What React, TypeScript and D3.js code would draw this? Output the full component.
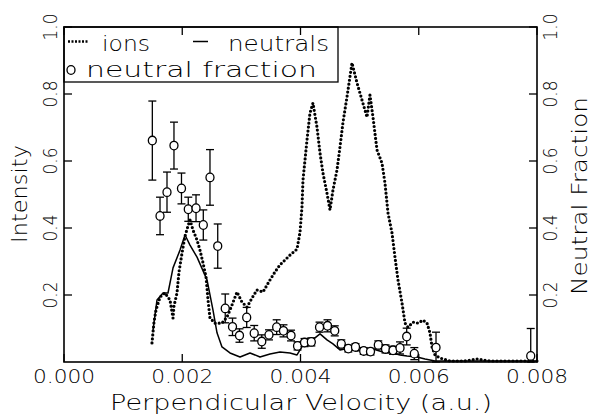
import React from "react";
import * as d3 from "d3";

// ---- data ----
// ions: [perpendicular velocity (a.u.), intensity]
const ionsV = [0.001488,0.001522,0.001556,0.001624,0.001708,0.001793,0.001844,0.00186,0.001911,0.001945,0.001996,0.002047,0.002097,0.002131,0.002182,0.00225,0.0023,0.002351,0.002402,0.002436,0.002469,0.002554,0.002672,0.002757,0.002841,0.002926,0.00301,0.003095,0.00318,0.003264,0.003366,0.003484,0.003569,0.003653,0.003822,0.003941,0.003992,0.004025,0.004042,0.004076,0.00411,0.00416,0.004211,0.004279,0.00433,0.00438,0.004448,0.004499,0.004549,0.004617,0.004668,0.004719,0.004786,0.004871,0.004956,0.00504,0.005125,0.005175,0.005226,0.005294,0.005378,0.005429,0.00548,0.005548,0.005598,0.005649,0.005717,0.005768,0.005818,0.005903,0.005987,0.006072,0.00614,0.00619,0.006224,0.006275,0.006359,0.006528,0.006782,0.006985,0.007205,0.007543,0.008];
const ionsI = [0.057,0.119,0.155,0.194,0.206,0.185,0.131,0.167,0.206,0.269,0.325,0.376,0.406,0.424,0.394,0.364,0.334,0.296,0.254,0.185,0.131,0.116,0.116,0.134,0.17,0.209,0.179,0.164,0.191,0.215,0.209,0.245,0.269,0.29,0.319,0.337,0.388,0.463,0.543,0.603,0.663,0.743,0.773,0.701,0.624,0.564,0.504,0.454,0.513,0.573,0.642,0.716,0.791,0.893,0.833,0.782,0.731,0.797,0.731,0.633,0.594,0.534,0.445,0.385,0.313,0.245,0.176,0.116,0.104,0.119,0.116,0.125,0.116,0.087,0.045,0.021,0.012,0.003,0.003,0.009,0.003,0.003,0.003];

// neutrals: [velocity, intensity]
const neutV = [0.001506,0.001539,0.001573,0.001675,0.001759,0.001844,0.001962,0.002047,0.002131,0.00225,0.002419,0.00252,0.002588,0.002672,0.002807,0.002977,0.003146,0.003315,0.003484,0.003653,0.003822,0.003941,0.003992,0.004042,0.00416,0.00433,0.004448,0.004549,0.004668,0.004837,0.004956,0.005057,0.005226,0.005395,0.005564,0.005683,0.005801,0.00597,0.006106,0.006275,0.008];
const neutI = [0.096,0.14,0.185,0.206,0.206,0.281,0.334,0.379,0.349,0.313,0.245,0.155,0.087,0.045,0.027,0.015,0.027,0.015,0.024,0.03,0.027,0.021,0.036,0.051,0.06,0.084,0.066,0.054,0.036,0.042,0.033,0.036,0.039,0.03,0.027,0.021,0.018,0.015,0.009,0.003,0.003];

// neutral fraction with error bars
const fracV = [0.001494,0.001624,0.001742,0.00186,0.001987,0.002102,0.002233,0.002356,0.002469,0.0026,0.002727,0.00285,0.002968,0.00309,0.003217,0.003345,0.003467,0.003597,0.003712,0.00384,0.00395,0.004068,0.004183,0.004322,0.004457,0.004579,0.00469,0.004809,0.00493,0.005069,0.005184,0.005316,0.005438,0.005565,0.005683,0.005796,0.005925,0.006292,0.007894];
const fracF = [0.661,0.436,0.507,0.646,0.518,0.456,0.459,0.409,0.551,0.346,0.16,0.105,0.079,0.133,0.086,0.061,0.081,0.104,0.093,0.079,0.048,0.058,0.06,0.104,0.108,0.093,0.054,0.04,0.045,0.033,0.031,0.051,0.039,0.035,0.042,0.076,0.025,0.043,0.018];
const fracErr = [0.118,0.056,0.06,0.07,0.046,0.036,0.04,0.045,0.083,0.066,0.043,0.026,0.02,0.03,0.023,0.02,0.015,0.022,0.018,0.016,0.012,0.012,0.012,0.015,0.018,0.015,0.012,0.01,0.01,0.01,0.01,0.012,0.012,0.012,0.018,0.025,0.018,0.046,0.082];

const xTicks = [0, 0.002, 0.004, 0.006, 0.008];
const yTicks = [0.2, 0.4, 0.6, 0.8, 1.0];

const W = 593, H = 418;
const M = { left: 64, right: 537, top: 27, bottom: 362 };
const FONT = "'DejaVu Sans', sans-serif";

export default function App() {
  const x = d3.scaleLinear().domain([0, 0.008]).range([M.left, M.right]);
  const y = d3.scaleLinear().domain([0, 1]).range([M.bottom, M.top]);
  const line = d3.line<[number, number]>().x(d => x(d[0])).y(d => y(d[1]));
  const ions: [number, number][] = ionsV.map((v, i) => [v, ionsI[i]]);
  const neut: [number, number][] = neutV.map((v, i) => [v, neutI[i]]);
  const tl = 8;
  const ax = d3.format(".3f");
  const ay = d3.format(".1f");

  return (
    <svg width={W} height={H} style={{ position: "absolute", left: 0, top: 0, background: "#fff" }}
      fontFamily={FONT} fontWeight={300}>
      {/* neutrals */}
      <path d={line(neut) || ""} fill="none" stroke="#000" strokeWidth={1.5} strokeLinejoin="round" />
      {/* ions dotted */}
      <path d={line(ions) || ""} fill="none" stroke="#000" strokeWidth={3.2} strokeLinecap="round"
        strokeDasharray="0 4" />
      {/* neutral fraction */}
      {fracV.map((v, i) => {
        const cx = x(v);
        const top = y(Math.min(1, fracF[i] + fracErr[i]));
        const bot = y(Math.max(0, fracF[i] - fracErr[i]));
        return (
          <g key={i} stroke="#000" strokeWidth={1.3} fill="none">
            <line x1={cx} x2={cx} y1={top} y2={bot} />
            <line x1={cx - 4} x2={cx + 4} y1={top} y2={top} />
            <line x1={cx - 4} x2={cx + 4} y1={bot} y2={bot} />
            <ellipse cx={cx} cy={y(fracF[i])} rx={4} ry={4.3} fill="#fff" />
          </g>
        );
      })}
      {/* legend */}
      <rect x={M.left} y={M.top} width={274} height={55} fill="#fff" stroke="#000" strokeWidth={1.3} />
      <line x1={68} x2={88} y1={41.5} y2={41.5} stroke="#000" strokeWidth={2.6} strokeDasharray="2 1.5" />
      <text x={102} y={51} fontSize={22} textLength={48} lengthAdjust="spacingAndGlyphs">ions</text>
      <line x1={193} x2={208} y1={41.5} y2={41.5} stroke="#000" strokeWidth={1.5} />
      <text x={228} y={51} fontSize={22} textLength={101} lengthAdjust="spacingAndGlyphs">neutrals</text>
      <ellipse cx={71} cy={70} rx={4} ry={4.3} fill="none" stroke="#000" strokeWidth={1.3} />
      <text x={86} y={77} fontSize={22} textLength={231} lengthAdjust="spacingAndGlyphs">neutral fraction</text>
      {/* frame */}
      <rect x={M.left} y={M.top} width={M.right - M.left} height={M.bottom - M.top} fill="none" stroke="#000" strokeWidth={1.6} />
      {/* x ticks */}
      {xTicks.map((t, i) => (
        <g key={"x" + i}>
          <line x1={x(t)} x2={x(t)} y1={M.bottom} y2={M.bottom - tl} stroke="#000" strokeWidth={1.3} />
          <line x1={x(t)} x2={x(t)} y1={M.top} y2={M.top + tl} stroke="#000" strokeWidth={1.3} />
          <text x={x(t)} y={383} fontSize={20} textAnchor="middle" textLength={62} lengthAdjust="spacingAndGlyphs">{ax(t)}</text>
        </g>
      ))}
      {/* y ticks */}
      {yTicks.map((t, i) => (
        <g key={"y" + i}>
          <line x1={M.left} x2={M.left + tl} y1={y(t)} y2={y(t)} stroke="#000" strokeWidth={1.3} />
          <line x1={M.right} x2={M.right - tl} y1={y(t)} y2={y(t)} stroke="#000" strokeWidth={1.3} />
          <text transform={`translate(57,${y(t)}) rotate(-90)`} fontSize={19} textAnchor="middle"
            textLength={27} lengthAdjust="spacingAndGlyphs">{ay(t)}</text>
          <text transform={`translate(557,${y(t)}) rotate(-90)`} fontSize={19} textAnchor="middle"
            textLength={27} lengthAdjust="spacingAndGlyphs">{ay(t)}</text>
        </g>
      ))}
      {/* titles */}
      <text x={301} y={410} fontSize={21} textAnchor="middle" textLength={382} lengthAdjust="spacingAndGlyphs">Perpendicular Velocity (a.u.)</text>
      <text transform={`translate(27,194) rotate(-90)`} fontSize={21} textAnchor="middle" textLength={98} lengthAdjust="spacingAndGlyphs">Intensity</text>
      <text transform={`translate(587,196) rotate(-90)`} fontSize={21} textAnchor="middle" textLength={198} lengthAdjust="spacingAndGlyphs">Neutral Fraction</text>
    </svg>
  );
}
